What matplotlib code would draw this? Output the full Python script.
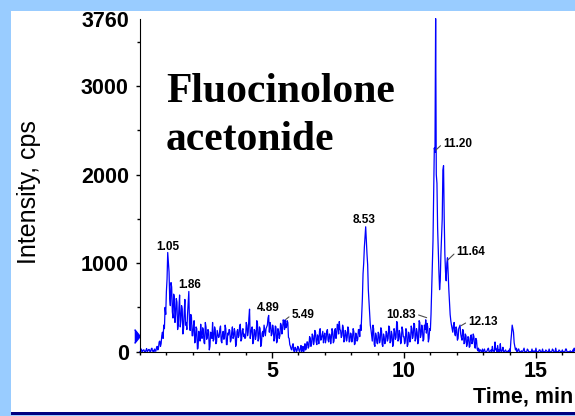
import numpy as np
import matplotlib
matplotlib.use("Agg")
import matplotlib.pyplot as plt
from matplotlib.patches import Rectangle
from matplotlib.ticker import MultipleLocator

plt.rcParams['font.family'] = ['Liberation Sans', 'DejaVu Sans']

# chromatogram, sampled every 0.025 min starting at 0 min (values in cps), one row per minute
t_start = 0.0
t_step = 0.025
intensity = [
    0, 10, 30, 0, 5, 20, 20, 0, 0, 15, 35, 0, 10, 25, 25, 0, 0, 30, 40, 5,
    15, 0, 30, 10, 5, 45, 60, 20, 40, 110, 120, 60, 90, 180, 220, 150, 300, 260, 500, 420,
    680, 820, 1120, 1000, 900, 600, 520, 780, 730, 450, 380, 650, 620, 330, 420, 600, 560, 250, 300, 500,
    640, 280, 350, 520, 480, 200, 260, 450, 590, 300, 330, 250, 420, 550, 680, 300, 240, 420, 390, 180,
    180, 300, 350, 100, 120, 280, 260, 30, 40, 230, 200, 120, 310, 180, 150, 270, 240, 100, 90, 330,
    280, 140, 160, 250, 230, 20, 60, 220, 210, 150, 330, 120, 140, 280, 250, 90, 110, 240, 200, 160,
    170, 260, 290, 120, 100, 200, 230, 140, 150, 300, 260, 80, 80, 210, 190, 250, 240, 110, 130, 220,
    280, 150, 170, 260, 220, 60, 90, 230, 250, 160, 180, 290, 310, 120, 140, 240, 260, 170, 200, 150,
    160, 330, 300, 180, 220, 380, 480, 150, 200, 260, 280, 90, 120, 250, 240, 140, 180, 350, 320, 120,
    150, 280, 260, 60, 90, 210, 230, 170, 300, 240, 180, 260, 280, 300, 380, 410, 220, 330, 300, 180,
    200, 300, 260, 120, 150, 290, 280, 100, 120, 260, 230, 150, 180, 320, 300, 200, 250, 360, 340, 250,
    360, 270, 280, 350, 330, 160, 150, 80, 60, 30, 20, 70, 90, 10, 0, 50, 40, 0, 10, 60,
    50, 10, 0, 40, 70, 0, 20, 60, 0, 30, 90, 20, 40, 110, 110, 40, 60, 170, 150, 60,
    90, 200, 180, 80, 120, 240, 220, 110, 80, 190, 160, 90, 230, 260, 130, 150, 190, 230, 100, 170,
    210, 100, 140, 230, 250, 130, 110, 200, 190, 90, 160, 260, 230, 100, 120, 240, 260, 150, 200, 310,
    300, 200, 340, 250, 240, 160, 180, 300, 270, 110, 130, 240, 220, 120, 160, 280, 250, 110, 120, 210,
    200, 110, 150, 260, 230, 80, 90, 210, 180, 120, 140, 250, 250, 170, 300, 240, 420, 600, 880, 1000,
    1180, 1300, 1410, 1250, 1100, 980, 700, 560, 420, 300, 250, 180, 120, 300, 260, 80, 60, 210, 180, 100,
    90, 220, 200, 100, 130, 270, 240, 80, 60, 200, 170, 90, 110, 230, 210, 120, 150, 290, 280, 100,
    120, 230, 190, 60, 90, 260, 230, 140, 160, 340, 330, 120, 140, 240, 200, 90, 110, 280, 250, 170,
    170, 90, 120, 260, 230, 60, 80, 220, 190, 110, 140, 290, 260, 150, 180, 320, 310, 120, 150, 260,
    220, 90, 120, 350, 330, 160, 190, 300, 260, 120, 140, 300, 250, 360, 210, 320, 280, 110, 150, 260,
    240, 420, 700, 1000, 1250, 1800, 2300, 2250, 3760, 2000, 1900, 1400, 1150, 900, 700, 800, 1100, 1300, 1500, 2050,
    2100, 1500, 1100, 900, 800, 1000, 1060, 880, 700, 560, 420, 350, 300, 260, 220, 300, 330, 200, 180, 280,
    250, 130, 150, 260, 280, 300, 200, 160, 130, 250, 240, 90, 100, 200, 180, 60, 90, 170, 160, 50,
    60, 180, 190, 90, 110, 200, 170, 70, 40, 150, 130, 30, 10, 40, 0, 20, 20, 0, 0, 30,
    0, 10, 30, 0, 0, 0, 10, 30, 40, 0, 0, 10, 20, 0, 60, 10, 10, 0, 110, 20,
    30, 0, 70, 0, 20, 0, 90, 10, 0, 20, 50, 0, 0, 10, 20, 0, 0, 0, 10, 0,
    30, 0, 120, 200, 300, 260, 220, 100, 60, 20, 40, 0, 0, 30, 30, 0, 0, 0, 10, 0,
    0, 20, 40, 0, 0, 0, 0, 30, 20, 0, 0, 0, 0, 0, 30, 0, 0, 10, 0, 0,
    40, 0, 0, 0, 0, 20, 20, 0, 0, 0, 30, 0, 0, 0, 0, 20, 10, 0, 0, 0,
    30, 0, 0, 0, 0, 30, 20, 0, 0, 0, 40, 0, 0, 0, 0, 20, 10, 0, 0, 0,
    20, 0, 0, 0, 0, 30, 30, 0, 0, 0, 0, 0, 10, 0, 0, 0, 20, 0, 40, 10,
    0,
]

peak_labels = ['1.05', '1.86', '4.89', '5.49', '8.53', '10.83', '11.20', '11.64', '12.13']
peak_times = [1.05, 1.86, 4.89, 5.53, 8.53, 10.86, 11.21, 11.66, 12.16]
peak_heights = [1120, 680, 414, 366, 1410, 384, 2276, 1035, 293]
has_leader = [False, False, False, True, False, True, True, True, True]

y_ticks = [0, 1000, 2000, 3000, 3760]
x_ticks = [5, 10, 15]

# label placement (data coords of text anchor), and alignment
label_pos = [(1.07, 1148), (1.88, 716), (4.875, 459), (5.75, 377), (8.48, 1449),
             (10.45, 384), (11.49, 2314), (12.0, 1091), (12.44, 301)]
label_ha = ['center', 'center', 'center', 'left', 'center', 'right', 'left', 'left', 'left']
marker_level = 177

times = t_start + t_step * np.arange(len(intensity))

fig = plt.figure(figsize=(5.75, 4.16), dpi=100)
fig.patch.set_facecolor('#99CCFF')
fig.patches.append(Rectangle((11 / 575, 4 / 416), 1, 401 / 416, transform=fig.transFigure,
                             facecolor='white', edgecolor='none', zorder=-5))
fig.patches.append(Rectangle((11 / 575, 1 / 416), 1, 3 / 416, transform=fig.transFigure,
                             facecolor='#000080', edgecolor='none', zorder=-4))

ax = fig.add_axes([140 / 575, (416 - 351.7) / 416, 1 - 140 / 575, (351.7 - 18.6) / 416])
ax.patch.set_visible(False)
ax.plot(times, intensity, color='#0000FF', lw=0.9, clip_on=False)
ax.plot([-0.095], [marker_level], marker=[(-0.4, -1), (0.4, 0), (-0.4, 1)], ms=10,
        color='#0000FF', clip_on=False, ls='none')

ax.set_xlim(0, 16.48)
ax.set_ylim(0, 3760)
ax.spines['top'].set_visible(False)
ax.spines['right'].set_visible(False)
ax.set_yticks(y_ticks)
ax.set_xticks(x_ticks)
ax.yaxis.set_minor_locator(MultipleLocator(500))
ax.xaxis.set_minor_locator(MultipleLocator(1))
ax.tick_params(axis='both', which='major', labelsize=15.5, width=1)
ax.tick_params(axis='y', which='major', length=3, pad=5)
ax.tick_params(axis='x', which='major', length=4, pad=3)
ax.tick_params(axis='both', which='minor', length=2.5, width=1)
for lab in ax.get_xticklabels() + ax.get_yticklabels():
    lab.set_fontweight('bold')
ax.yaxis.get_major_ticks()[-1].tick1line.set_visible(False)

for lab, t, h, lead, pos, ha in zip(peak_labels, peak_times, peak_heights, has_leader, label_pos, label_ha):
    if lead:
        rel = (1, 0.55) if ha == 'right' else (0, 0.55)
        ax.annotate(lab, xy=(t, h), xytext=pos, ha=ha, va='baseline', fontsize=8.5,
                    fontweight='bold',
                    arrowprops=dict(arrowstyle='-', color='0.3', lw=0.8, relpos=rel,
                                    shrinkA=0, shrinkB=0))
    else:
        ax.text(pos[0], pos[1], lab, ha=ha, va='baseline', fontsize=8.5, fontweight='bold')

fig.text(166 / 575, (416 - 101.7) / 416, 'Fluocinolone', family='Liberation Serif',
         fontweight='bold', fontsize=30, ha='left', va='baseline')
fig.text(166 / 575, (416 - 150) / 416, 'acetonide', family='Liberation Serif',
         fontweight='bold', fontsize=30, ha='left', va='baseline')
fig.text(29 / 575, (416 - 192.5) / 416, 'Intensity, cps', rotation=90, fontsize=18,
         ha='center', va='center')
fig.text(573 / 575, (416 - 403) / 416, 'Time, min', fontsize=15.5, fontweight='bold',
         ha='right', va='baseline')

fig.savefig('out.png', dpi=100, facecolor=fig.get_facecolor())
